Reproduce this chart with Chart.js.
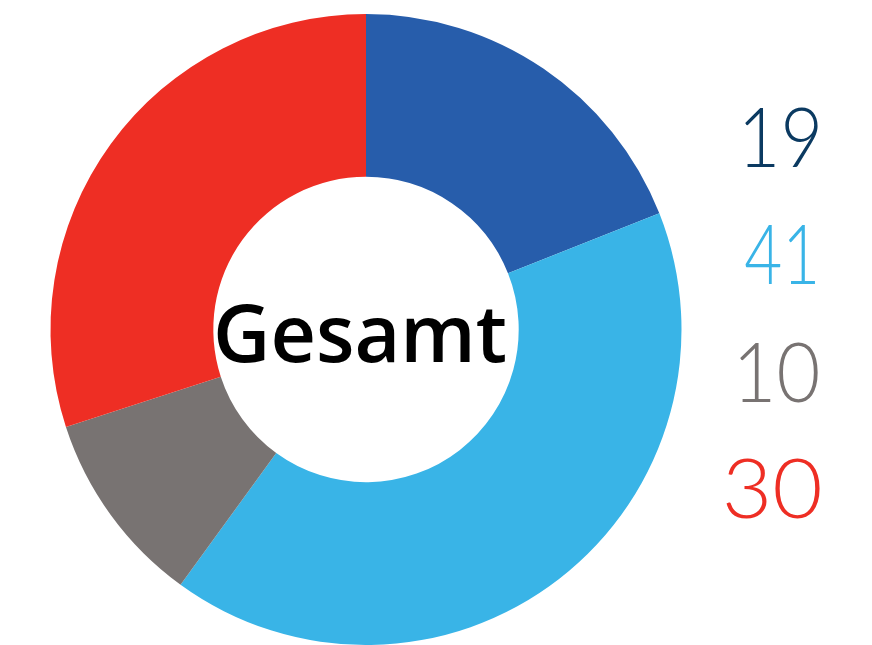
<!DOCTYPE html>
<html><head><meta charset="utf-8">
<script src="https://cdn.jsdelivr.net/npm/chart.js@4.4.1/dist/chart.umd.min.js"></script>
<style>html,body{margin:0;padding:0;background:#fff;overflow:hidden}canvas{display:block}</style>
</head><body>
<canvas id="c" width="872" height="645"></canvas>
<script>
const categories = ["A", "B", "C", "D"];
const values = [19, 41, 10, 30];
const segmentColors = ["#275DAB", "#39B4E7", "#787372", "#EE2E24"];
const labelColors = ["#0B3A61", "#39B4E7", "#787372", "#EE2E24"];
const centerLabel = "Gesamt";

const textPlugin = {
  id: 'texts',
  afterDraw(chart) {
    const ctx = chart.ctx;
    ctx.save();
    // right-side numbers, ink box fitted to the reference
    ctx.font = '300 82px Lato, "Open Sans", sans-serif';
    ctx.textAlign = 'left';
    ctx.textBaseline = 'alphabetic';
    const baselines = [167, 284, 402, 518];
    const lefts = [745, 745, 740, 726];
    const rights = [818, 815, 818, 820];
    values.forEach((v, i) => {
      const s = String(v);
      const m = ctx.measureText(s);
      const ink = m.actualBoundingBoxLeft + m.actualBoundingBoxRight;
      const sx = (rights[i] - lefts[i]) / ink;
      ctx.save();
      ctx.translate(lefts[i], baselines[i]);
      ctx.scale(sx, 1);
      ctx.fillStyle = labelColors[i];
      ctx.fillText(s, m.actualBoundingBoxLeft, 0);
      ctx.restore();
    });
    // center label
    let size = 72;
    ctx.font = '600 ' + size + 'px "Open Sans", Lato, sans-serif';
    let m = ctx.measureText(centerLabel);
    const ink = m.actualBoundingBoxLeft + m.actualBoundingBoxRight;
    size = size * 288 / ink;
    ctx.font = '600 ' + size.toFixed(1) + 'px "Open Sans", Lato, sans-serif';
    m = ctx.measureText(centerLabel);
    ctx.textAlign = 'left';
    ctx.fillStyle = '#000';
    ctx.fillText(centerLabel, 217 + m.actualBoundingBoxLeft, 362);
    ctx.restore();
  }
};

new Chart(document.getElementById('c'), {
  type: 'doughnut',
  data: {
    labels: categories,
    datasets: [{
      data: values,
      backgroundColor: segmentColors,
      borderWidth: 0
    }]
  },
  options: {
    responsive: false,
    animation: false,
    cutout: '48.4%',
    layout: { padding: { left: 50, top: 14, right: 190, bottom: 0 } },
    plugins: { legend: { display: false }, tooltip: { enabled: false } }
  },
  plugins: [textPlugin]
});
</script>
</body></html>
